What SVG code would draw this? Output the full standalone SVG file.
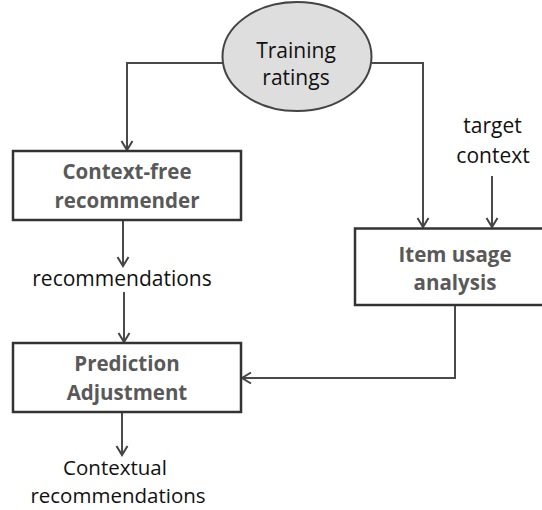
<svg xmlns="http://www.w3.org/2000/svg" width="542" height="510" viewBox="0 0 542 510">
<defs>
<marker id="arr" markerUnits="userSpaceOnUse" markerWidth="14" markerHeight="14" viewBox="-11 -7 13 14" refX="0" refY="0" orient="auto">
<path d="M-9,-5.5 L0,0 L-9,5.5" fill="none" stroke="#444" stroke-width="2"/>
</marker>
<style>
.box{fill:#fff;stroke:#333;stroke-width:2.5}
.ell{fill:#dedede;stroke:#444;stroke-width:2}
.c{fill:none;stroke:#4a4a4a;stroke-width:2;marker-end:url(#arr)}
.bt{font-family:"Open Sans","Noto Sans",sans-serif;font-size:20.5px;font-weight:bold;fill:#595959;text-anchor:middle}
.lt{font-family:"Open Sans","Noto Sans",sans-serif;font-size:21px;fill:#111;text-anchor:middle}
.sm{font-size:20.5px}
</style>
</defs>
<rect width="542" height="510" fill="#fff"/>
<g id="connectors">
<path class="c" d="M223,63 H127 V150"/>
<path class="c" d="M372,63 H423 V227"/>
<path class="c" d="M492,176 V227"/>
<path class="c" d="M123,221 V266"/>
<path class="c" d="M124,292 V342"/>
<path class="c" d="M455,305 V378 H242"/>
<path class="c" d="M122,413 V455"/>
</g>
<g id="training-ratings">
<ellipse class="ell" cx="297" cy="56.5" rx="74.5" ry="54.5"/>
<text class="lt" x="296" y="58">Training</text>
<text class="lt" x="296" y="85">ratings</text>
</g>
<g id="context-free-recommender">
<rect class="box" x="13" y="151" width="228" height="69"/>
<text class="bt" x="127" y="179">Context-free</text>
<text class="bt" x="127" y="208">recommender</text>
</g>
<g id="item-usage-analysis">
<rect class="box" x="355" y="228.5" width="205" height="76.5"/>
<text class="bt" x="455" y="262">Item usage</text>
<text class="bt" x="455" y="290">analysis</text>
</g>
<g id="prediction-adjustment">
<rect class="box" x="13" y="343" width="228" height="69"/>
<text class="bt" x="127" y="370.5">Prediction</text>
<text class="bt" x="127" y="400">Adjustment</text>
</g>
<g id="target-context">
<text class="lt" x="492.5" y="133">target</text>
<text class="lt" x="493" y="162.5">context</text>
</g>
<g id="recommendations">
<text class="lt" x="122" y="285.5">recommendations</text>
</g>
<g id="contextual-recommendations">
<text class="lt sm" x="115" y="475">Contextual</text>
<text class="lt sm" x="118" y="503">recommendations</text>
</g>
</svg>
